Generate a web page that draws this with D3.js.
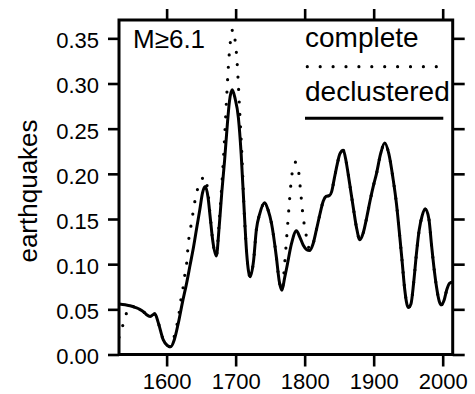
<!DOCTYPE html>
<html>
<head>
<meta charset="utf-8">
<script src="https://cdn.jsdelivr.net/npm/d3@7"></script>
<style>
  html, body { margin: 0; padding: 0; background: #fff; }
  svg { display: block; }
  text { font-family: "Liberation Sans", Arial, Helvetica, sans-serif; fill: #000; }
</style>
</head>
<body>
<svg id="chart" width="475" height="394"></svg>
<script>
// ---- data ----
const declusteredYears = [1531,1540,1547,1555,1561,1567,1571,1576,1580,1583,1588,1595,1601,1606,1611,1617,1623,1629,1634,1639,1644,1648,1652,1656,1660,1663,1667,1672,1676,1680,1684,1688,1691,1695,1699,1704,1708,1712,1716,1721,1726,1730,1735,1742,1747,1752,1759,1763,1767,1771,1774,1781,1788,1793,1798,1803,1807,1812,1817,1822,1827,1831,1836,1839,1843,1847,1851,1856,1860,1863,1867,1871,1875,1880,1885,1890,1895,1900,1904,1910,1916,1922,1928,1933,1937,1941,1945,1950,1954,1958,1962,1966,1970,1975,1980,1984,1988,1991,1995,1998,2002,2006,2010,2014];
const declustered = [0.056,0.055,0.054,0.052,0.050,0.047,0.044,0.042,0.044,0.045,0.035,0.0165,0.010,0.0085,0.016,0.035,0.058,0.079,0.099,0.119,0.142,0.160,0.179,0.186,0.174,0.153,0.125,0.109,0.140,0.180,0.215,0.255,0.280,0.293,0.284,0.262,0.222,0.165,0.112,0.086,0.104,0.138,0.156,0.168,0.160,0.145,0.108,0.082,0.071,0.085,0.096,0.123,0.137,0.130,0.121,0.116,0.115,0.122,0.138,0.155,0.170,0.175,0.176,0.180,0.195,0.210,0.222,0.226,0.214,0.200,0.180,0.160,0.141,0.127,0.135,0.152,0.171,0.188,0.200,0.222,0.234,0.222,0.195,0.167,0.137,0.105,0.072,0.052,0.056,0.080,0.112,0.138,0.153,0.161,0.150,0.120,0.092,0.075,0.059,0.055,0.060,0.072,0.079,0.080];

const completeYears = [1531,1536,1541,1547,1555,1561,1567,1571,1576,1580,1583,1588,1595,1601,1606,1611,1615,1618,1620,1623,1625,1628,1630,1631,1634,1636,1639,1642,1647,1651,1655,1659,1663,1667,1672,1676,1680,1684,1687,1690,1693,1696,1699,1702,1704,1706,1709,1712,1716,1721,1726,1730,1735,1742,1747,1752,1759,1763,1767,1771,1774,1777,1780,1783,1787,1791,1794,1797,1800,1804,1807,1812,1817,1822,1827,1831,1836,1839,1843,1847,1851,1856,1860,1863,1867,1871,1875,1880,1885,1890,1895,1900,1904,1910,1916,1922,1928,1933,1937,1941,1945,1950,1954,1958,1962,1966,1970,1975,1980,1984,1988,1991,1995,1998,2002,2006,2010,2014];
const complete = [0.019,0.031,0.044,0.054,0.052,0.050,0.047,0.044,0.042,0.044,0.045,0.035,0.0165,0.010,0.0085,0.020,0.033,0.0455,0.0576,0.069,0.0815,0.096,0.108,0.121,0.135,0.147,0.160,0.1745,0.1875,0.194,0.197,0.185,0.155,0.125,0.109,0.145,0.188,0.240,0.285,0.325,0.350,0.360,0.349,0.325,0.298,0.267,0.222,0.165,0.112,0.086,0.104,0.138,0.156,0.168,0.160,0.145,0.108,0.082,0.071,0.100,0.130,0.160,0.188,0.206,0.213,0.204,0.182,0.158,0.141,0.126,0.116,0.122,0.138,0.155,0.170,0.175,0.176,0.180,0.195,0.210,0.222,0.226,0.214,0.200,0.180,0.160,0.141,0.127,0.135,0.152,0.171,0.188,0.200,0.222,0.234,0.222,0.195,0.167,0.137,0.105,0.072,0.052,0.056,0.080,0.112,0.138,0.153,0.161,0.150,0.120,0.092,0.075,0.059,0.055,0.060,0.072,0.079,0.080];

const xTicks = [1600, 1700, 1800, 1900, 2000];
const yTicks = [0.00, 0.05, 0.10, 0.15, 0.20, 0.25, 0.30, 0.35];
const yTickLabels = ["0.00", "0.05", "0.10", "0.15", "0.20", "0.25", "0.30", "0.35"];
const seriesNames = ["complete", "declustered"];
const yTitle = "earthquakes";
const panelLabel = "M\u22656.1";

// ---- layout ----
const L = 119, R = 452.7, T = 20, B = 354.5;
const svg = d3.select("#chart");
const x = d3.scaleLinear().domain([1531, 2014.5]).range([L, R]);
const y = d3.scaleLinear().domain([0, 0.3703]).range([B, T]);

function styleAxis(g) {
  g.select(".domain").remove();
  g.selectAll(".tick line").attr("stroke", "#000").attr("stroke-width", 2.6);
  g.selectAll(".tick text").style("font-size", "22px").attr("fill", "#000");
}

// left axis
svg.append("g").attr("transform", `translate(${L},0)`)
  .call(d3.axisLeft(y).tickValues(yTicks).tickFormat((d, i) => yTickLabels[i]).tickSize(11).tickPadding(9))
  .call(styleAxis)
  .call(g => g.selectAll(".tick text").attr("dy", "0.43em"));
// right axis (no labels)
svg.append("g").attr("transform", `translate(${R},0)`)
  .call(d3.axisRight(y).tickValues(yTicks).tickFormat("").tickSize(12))
  .call(styleAxis);
// bottom axis
svg.append("g").attr("transform", `translate(0,${B})`)
  .call(d3.axisBottom(x).tickValues(xTicks).tickFormat(d3.format("d")).tickSize(12).tickPadding(7))
  .call(styleAxis)
  .call(g => g.selectAll(".tick text").attr("dy", "0.7em"));
// top axis
svg.append("g").attr("transform", `translate(0,${T})`)
  .call(d3.axisTop(x).tickValues(xTicks).tickFormat("").tickSize(11))
  .call(styleAxis);

// lines
svg.append("clipPath").attr("id", "clip").append("rect")
  .attr("x", L).attr("y", T).attr("width", R - L).attr("height", B - T);

const line = d3.line().x(d => x(d[0])).y(d => y(d[1])).curve(d3.curveMonotoneX);
const compData = completeYears.map((yr, i) => [yr, complete[i]]);
const declData = declusteredYears.map((yr, i) => [yr, declustered[i]]);

svg.append("path").datum(compData).attr("d", line)
  .attr("clip-path", "url(#clip)")
  .attr("fill", "none").attr("stroke", "#000").attr("stroke-width", 3.2)
  .attr("stroke-linecap", "round").attr("stroke-dasharray", "0 12.4");
svg.append("path").datum(declData).attr("d", line)
  .attr("clip-path", "url(#clip)")
  .attr("fill", "none").attr("stroke", "#000").attr("stroke-width", 3);

// frame
svg.append("rect").attr("x", L).attr("y", T).attr("width", R - L).attr("height", B - T)
  .attr("fill", "none").attr("stroke", "#000").attr("stroke-width", 3);

// panel label
svg.append("text").attr("x", 133).attr("y", 48).style("font-size", "26px").text(panelLabel);

// legend
svg.append("text").attr("x", 305).attr("y", 46.7).style("font-size", "28px").text(seriesNames[0]);
svg.append("line").attr("x1", 307.3).attr("x2", 440).attr("y1", 66.7).attr("y2", 66.7)
  .attr("stroke", "#000").attr("stroke-width", 3.2).attr("stroke-linecap", "round")
  .attr("stroke-dasharray", "0 12.9");
svg.append("text").attr("x", 305).attr("y", 100.5).style("font-size", "28px").text(seriesNames[1]);
svg.append("line").attr("x1", 305).attr("x2", 443.3).attr("y1", 118.3).attr("y2", 118.3)
  .attr("stroke", "#000").attr("stroke-width", 3);

// y title
svg.append("text").attr("transform", "translate(36.5,191) rotate(-90)")
  .attr("text-anchor", "middle").style("font-size", "26px").text(yTitle);
</script>
</body>
</html>
